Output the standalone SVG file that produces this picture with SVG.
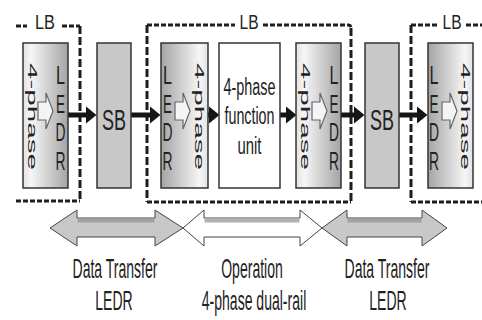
<svg xmlns="http://www.w3.org/2000/svg" width="482" height="320" viewBox="0 0 482 320">
<style>
  text { font-family: "Liberation Sans", Arial, sans-serif; fill: #222; }
  .box { stroke: #333; stroke-width: 1.5; }
  .sb { fill: #c8c8c8; stroke: #333; stroke-width: 1.5; }
  .fu { fill: #ffffff; stroke: #333; stroke-width: 1.5; }
  .dh { fill: none; stroke: #1e1e1e; stroke-width: 3; stroke-dasharray: 5 2; }
  .dv { fill: none; stroke: #1e1e1e; stroke-width: 3; stroke-dasharray: 8 3; }
  .hollow { fill: #f4f4f4; stroke: #666; stroke-width: 1.2; stroke-linejoin: miter; }
  .conn { stroke: #151515; stroke-width: 5; fill: none; }
  .big { stroke: #444; stroke-width: 1; }
  .lbl { font-size: 27px; text-anchor: middle; }
  .ledr { font-size: 26px; }
  .rot { font-size: 13px; }
</style>
<defs>
  <linearGradient id="gR" x1="0" y1="0" x2="1" y2="0">
    <stop offset="0" stop-color="#e2e2e2"/>
    <stop offset="0.18" stop-color="#f6f6f6"/>
    <stop offset="1" stop-color="#a4a4a4"/>
  </linearGradient>
  <linearGradient id="gL" x1="0" y1="0" x2="1" y2="0">
    <stop offset="0" stop-color="#a4a4a4"/>
    <stop offset="0.82" stop-color="#f6f6f6"/>
    <stop offset="1" stop-color="#e2e2e2"/>
  </linearGradient>
  <marker id="ah" markerUnits="userSpaceOnUse" markerWidth="12" markerHeight="20" refX="0.5" refY="9" orient="auto">
    <path d="M0,0 L11,9 L0,18 Z" fill="#151515"/>
  </marker>
</defs>

<!-- LB frames -->
<g id="lb-left">
  <path class="dh" d="M16,26 H27 M62,26 H80"/>
  <path class="dv" d="M80,26 V201"/>
  <path class="dh" d="M16,201 H80"/>
  <text x="45" y="29" font-size="20" text-anchor="middle" textLength="20" lengthAdjust="spacingAndGlyphs">LB</text>
</g>
<g id="lb-mid">
  <path class="dh" d="M147,25 H235 M263,25 H348 Q351,25 351,28"/>
  <path class="dv" d="M147,25 V202 M351,28 V202"/>
  <path class="dh" d="M147,202 H351"/>
  <text x="249" y="29" font-size="20" text-anchor="middle" textLength="19" lengthAdjust="spacingAndGlyphs">LB</text>
</g>
<g id="lb-right">
  <path class="dh" d="M411,25 H438 M466,25 H482"/>
  <path class="dv" d="M411,25 V202"/>
  <path class="dh" d="M411,202 H482"/>
  <text x="452" y="29" font-size="20" text-anchor="middle" textLength="19" lengthAdjust="spacingAndGlyphs">LB</text>
</g>

<!-- connectors -->
<g id="connectors">
  <line class="conn" x1="68" y1="115" x2="86" y2="115" marker-end="url(#ah)"/>
  <line class="conn" x1="131" y1="115" x2="150" y2="115" marker-end="url(#ah)"/>
  <line class="conn" x1="208" y1="115" x2="209" y2="115" marker-end="url(#ah)"/>
  <line class="conn" x1="280" y1="115" x2="286" y2="115" marker-end="url(#ah)"/>
  <line class="conn" x1="341" y1="115" x2="354" y2="115" marker-end="url(#ah)"/>
  <line class="conn" x1="399" y1="115" x2="417" y2="115" marker-end="url(#ah)"/>
</g>

<!-- box 1: 4-phase -> LEDR -->
<g id="box1">
  <rect class="box" x="23" y="43" width="45" height="145" fill="url(#gR)"/>
  <text class="rot" transform="translate(28,116.5) rotate(90)" text-anchor="middle" textLength="107" lengthAdjust="spacingAndGlyphs">4-phase</text>
  <path class="hollow" d="M38,102 H46 V93 L53,111 L46,129 V120 H38 Z"/>
  <g class="ledr" text-anchor="middle">
    <text x="60.5" y="84" textLength="9" lengthAdjust="spacingAndGlyphs">L</text>
    <text x="60.5" y="113" textLength="9" lengthAdjust="spacingAndGlyphs">E</text>
    <text x="60.5" y="141" textLength="10" lengthAdjust="spacingAndGlyphs">D</text>
    <text x="60.5" y="170" textLength="10" lengthAdjust="spacingAndGlyphs">R</text>
  </g>
</g>

<g id="sb1">
  <rect class="sb" x="97" y="43" width="34" height="145"/>
  <text x="114" y="130" font-size="30" text-anchor="middle" textLength="24" lengthAdjust="spacingAndGlyphs">SB</text>
</g>

<!-- box 2: LEDR -> 4-phase -->
<g id="box2">
  <rect class="box" x="161" y="43" width="47" height="145" fill="url(#gL)"/>
  <g class="ledr" text-anchor="middle">
    <text x="167.5" y="84" textLength="9" lengthAdjust="spacingAndGlyphs">L</text>
    <text x="167.5" y="113" textLength="9" lengthAdjust="spacingAndGlyphs">E</text>
    <text x="167.5" y="141" textLength="10" lengthAdjust="spacingAndGlyphs">D</text>
    <text x="167.5" y="170" textLength="10" lengthAdjust="spacingAndGlyphs">R</text>
  </g>
  <path class="hollow" d="M175,102 H183 V93 L190,111 L183,129 V120 H175 Z"/>
  <text class="rot" transform="translate(195,116.5) rotate(90)" text-anchor="middle" textLength="107" lengthAdjust="spacingAndGlyphs">4-phase</text>
</g>

<g id="function-unit">
  <rect class="fu" x="219" y="43" width="61" height="145"/>
  <g font-size="23" text-anchor="middle">
    <text x="249.5" y="95" textLength="52" lengthAdjust="spacingAndGlyphs">4-phase</text>
    <text x="249.5" y="124" textLength="50" lengthAdjust="spacingAndGlyphs">function</text>
    <text x="249.5" y="154" textLength="24" lengthAdjust="spacingAndGlyphs">unit</text>
  </g>
</g>

<!-- box 3: 4-phase -> LEDR -->
<g id="box3">
  <rect class="box" x="296" y="43" width="45" height="145" fill="url(#gR)"/>
  <text class="rot" transform="translate(301,116.5) rotate(90)" text-anchor="middle" textLength="107" lengthAdjust="spacingAndGlyphs">4-phase</text>
  <path class="hollow" d="M312,102 H320 V93 L327,111 L320,129 V120 H312 Z"/>
  <g class="ledr" text-anchor="middle">
    <text x="334" y="84" textLength="9" lengthAdjust="spacingAndGlyphs">L</text>
    <text x="334" y="113" textLength="9" lengthAdjust="spacingAndGlyphs">E</text>
    <text x="334" y="141" textLength="10" lengthAdjust="spacingAndGlyphs">D</text>
    <text x="334" y="170" textLength="10" lengthAdjust="spacingAndGlyphs">R</text>
  </g>
</g>

<g id="sb2">
  <rect class="sb" x="365" y="43" width="34" height="145"/>
  <text x="382" y="130" font-size="30" text-anchor="middle" textLength="24" lengthAdjust="spacingAndGlyphs">SB</text>
</g>

<!-- box 4: LEDR -> 4-phase -->
<g id="box4">
  <rect class="box" x="428" y="43" width="45" height="145" fill="url(#gL)"/>
  <g class="ledr" text-anchor="middle">
    <text x="434" y="84" textLength="9" lengthAdjust="spacingAndGlyphs">L</text>
    <text x="434" y="113" textLength="9" lengthAdjust="spacingAndGlyphs">E</text>
    <text x="434" y="141" textLength="10" lengthAdjust="spacingAndGlyphs">D</text>
    <text x="434" y="170" textLength="10" lengthAdjust="spacingAndGlyphs">R</text>
  </g>
  <path class="hollow" d="M442,102 H450 V93 L457,111 L450,129 V120 H442 Z"/>
  <text class="rot" transform="translate(461,116.5) rotate(90)" text-anchor="middle" textLength="107" lengthAdjust="spacingAndGlyphs">4-phase</text>
</g>

<!-- bottom phase arrows -->
<g id="phase-left">
  <path class="big" fill="#c8c8c8" d="M50,228 L77,210 V218 H155 V210 L183,228 L155,246 V237 H77 V246 Z"/>
  <rect x="77.5" y="218.5" width="77" height="4" fill="#a2a2a2"/>
  <text class="lbl" transform="translate(115,278) scale(0.52,1)">Data Transfer</text>
  <text class="lbl" transform="translate(114,310) scale(0.52,1)">LEDR</text>
</g>
<g id="phase-mid">
  <path class="big" fill="#ffffff" d="M183,228 L204,210 V218 H300 V210 L322,228 L300,246 V237 H204 V246 Z"/>
  <rect x="204.5" y="218.5" width="95" height="4" fill="#b0b0b0"/>
  <text class="lbl" transform="translate(252,278) scale(0.52,1)">Operation</text>
  <text class="lbl" transform="translate(254,310) scale(0.52,1)">4-phase dual-rail</text>
</g>
<g id="phase-right">
  <path class="big" fill="#c8c8c8" d="M322,228 L347,210 V218 H422 V210 L447,228 L422,246 V237 H347 V246 Z"/>
  <rect x="347.5" y="218.5" width="74" height="4" fill="#a2a2a2"/>
  <text class="lbl" transform="translate(387,278) scale(0.52,1)">Data Transfer</text>
  <text class="lbl" transform="translate(388,310) scale(0.52,1)">LEDR</text>
</g>
</svg>
